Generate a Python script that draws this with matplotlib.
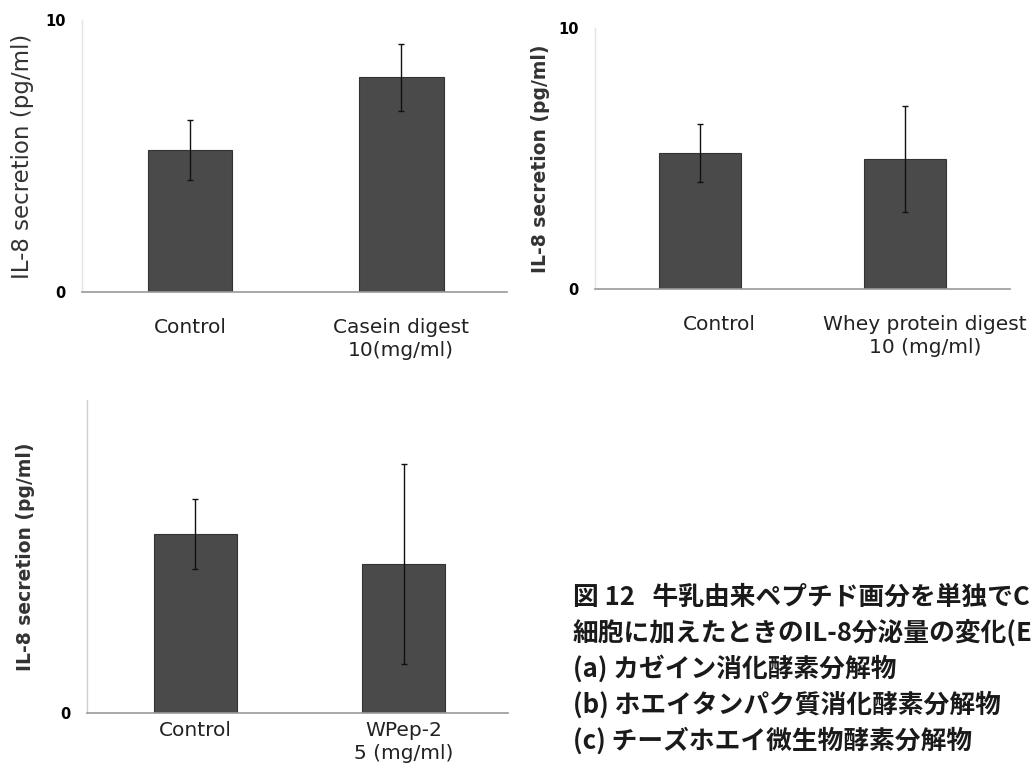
import matplotlib
matplotlib.use("Agg")
import matplotlib.pyplot as plt
from matplotlib.transforms import ScaledTranslation

plt.rcParams['font.family'] = ['DejaVu Sans']

# Data
cats_a = ["Control", "Casein digest\n10(mg/ml)"]
vals_a = [5.22, 7.90]
errs_a = [1.12, 1.23]

cats_b = ["Control", "Whey protein digest\n10 (mg/ml)"]
vals_b = [5.21, 4.98]
errs_b = [1.11, 2.03]

cats_c = ["Control", "WPep-2\n5 (mg/ml)"]
vals_c = [5.72, 4.76]
errs_c = [1.13, 3.20]

ylab = "IL-8 secretion (pg/ml)"
# caption as visible in the reference (cut at the right edge of the page)
caption = ["図 12   牛乳由来ペプチド画分を単独でC",
           "細胞に加えたときのIL-8分泌量の変化(E",
           "(a) カゼイン消化酵素分解物",
           "(b) ホエイタンパク質消化酵素分解物",
           "(c) チーズホエイ微生物酵素分解物"]

W, H = 1033, 771
fig = plt.figure(figsize=(W / 100, H / 100), dpi=100)
fig.patch.set_facecolor("white")

BAR = "#4a4a4a"
EDGE = "#333333"


def panel(rect, cats, vals, errs, xlim, yticks, yticklabels, label_kw, tick_fs,
          tick_pad, ytick_pad, xshift=0):
    ax = fig.add_axes(rect)
    x = list(range(len(cats)))
    ax.bar(x, vals, width=0.40, color=BAR, edgecolor=EDGE, linewidth=0.8, zorder=2)
    ax.errorbar(x, vals, yerr=errs, fmt="none", ecolor="#111111", elinewidth=1.0,
                capsize=2.5, capthick=1.0, zorder=3)
    ax.set_xlim(*xlim)
    ax.set_ylim(0, 10)
    ax.set_yticks(yticks)
    ax.set_yticklabels(yticklabels, fontsize=10.5, fontweight="bold",
                       family=["Liberation Sans Narrow", "DejaVu Sans"])
    ax.tick_params(axis="y", length=0, pad=ytick_pad)
    ax.set_xticks(x)
    ax.set_xticklabels(cats, fontsize=tick_fs, linespacing=1.25)
    ax.tick_params(axis="x", length=0, pad=tick_pad, colors="#222222")
    if xshift:
        off = ScaledTranslation(xshift / 100, 0, fig.dpi_scale_trans)
        for lbl in ax.get_xticklabels():
            lbl.set_transform(lbl.get_transform() + off)
    for s in ["top", "right"]:
        ax.spines[s].set_visible(False)
    ax.spines["left"].set_color("#e4e4e4")
    ax.spines["left"].set_linewidth(1.0)
    ax.spines["bottom"].set_color("#9a9a9a")
    ax.spines["bottom"].set_linewidth(1.2)
    ax.set_ylabel(ylab, **label_kw)
    return ax


# (a)
ax_a = panel([82 / W, 1 - 292 / H, 425 / W, 272 / H], cats_a, vals_a, errs_a,
             (-0.51, 1.50), [0, 10], ["0", "10"],
             dict(fontsize=16.5, color="#333333", labelpad=8), 14.5, 19, 12)
# (b)
ax_b = panel([595 / W, 1 - 289 / H, 415 / W, 261 / H], cats_b, vals_b, errs_b,
             (-0.51, 1.51), [0, 10], ["0", "10"],
             dict(fontsize=13.5, fontweight="bold", color="#333333", labelpad=6),
             14.5, 19, 12, xshift=20)
# (c)
ax_c = panel([87 / W, 1 - 713 / H, 421 / W, 313 / H], cats_c, vals_c, errs_c,
             (-0.52, 1.50), [0], ["0"],
             dict(fontsize=13.5, fontweight="bold", color="#333333", labelpad=18),
             14.5, 6, 12)
ax_c.spines["left"].set_color("#cfcfcf")

# Caption
y0 = 597
for i, line in enumerate(caption):
    fig.text(573 / W, 1 - (y0 + i * 36) / H, line, fontsize=18.5, fontweight="bold",
             family=["Noto Sans CJK JP", "DejaVu Sans"], color="#1a1a1a",
             va="center", ha="left")

fig.savefig("out.png", dpi=100, facecolor="white")
